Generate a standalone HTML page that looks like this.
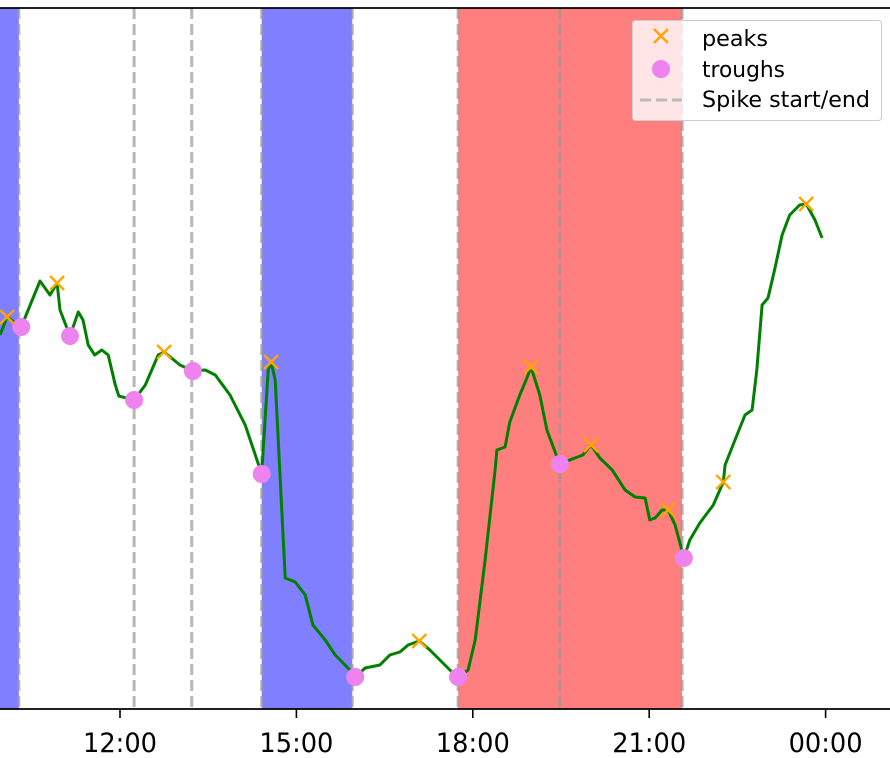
<!DOCTYPE html>
<html><head><meta charset="utf-8"><style>
html,body{margin:0;padding:0;background:#fff;}
svg{display:block;font-family:"DejaVu Sans","Liberation Sans",sans-serif;}
</style></head><body>
<svg id="chart" width="890" height="758" viewBox="0 0 890 758" xmlns="http://www.w3.org/2000/svg">
<g id="spans"></g>
<g id="vlines"></g>
<path id="series" fill="none" stroke="#008000" stroke-width="3" stroke-linejoin="round"/>
<g id="troughs"></g>
<g id="peaks"></g>
<line x1="0" y1="8" x2="890" y2="8" stroke="#000" stroke-width="1.8"/>
<line x1="0" y1="709" x2="890" y2="709" stroke="#000" stroke-width="1.8"/>
<g id="xticks"></g>
<g>
<rect x="632.5" y="20.5" width="249" height="100" rx="3" fill="#fff" fill-opacity="0.8" stroke="#ccc"/>
<g>
<path d="M654,29 L668,43 M668,29 L654,43" stroke="orange" stroke-width="2.4"/>
<text x="702" y="46" font-size="22" textLength="66" lengthAdjust="spacingAndGlyphs" fill="#000">peaks</text></g>
<g>
<circle cx="661" cy="69" r="9" fill="violet"/>
<text x="702" y="77" font-size="22" textLength="83" lengthAdjust="spacingAndGlyphs" fill="#000">troughs</text></g>
<g>
<line x1="640" y1="100" x2="682" y2="100" stroke="#bbb" stroke-width="3" stroke-dasharray="11,5"/>
<text x="702" y="107" font-size="22" textLength="168" lengthAdjust="spacingAndGlyphs" fill="#000">Spike start/end</text></g>
</g>
</svg>
<script>
const times=[9.96,10.08,10.32,10.64,10.81,10.93,10.98,11.15,11.29,11.37,11.46,11.57,11.69,11.80,11.92,11.98,12.24,12.43,12.65,12.75,13.02,13.24,13.45,13.62,13.87,14.13,14.41,14.52,14.57,14.64,14.81,14.98,15.15,15.28,15.49,15.66,15.91,16.00,16.17,16.42,16.59,16.76,16.90,17.09,17.27,17.61,17.75,17.92,18.04,18.21,18.38,18.41,18.55,18.63,18.80,18.92,18.99,19.14,19.26,19.45,19.48,19.65,19.87,20.01,20.16,20.37,20.59,20.76,20.93,21.01,21.10,21.22,21.32,21.44,21.59,21.69,21.86,22.09,22.26,22.29,22.46,22.63,22.75,22.83,22.92,23.02,23.14,23.26,23.39,23.56,23.67,23.82,23.94];
const values=[374,392,382,428,414,426,399,373,397,389,364,354,359,354,324,313,309,324,354,357,344,338,339,334,314,284,235,339,347,329,131,127,114,84,69,54,39,32,41,44,54,57,64,68,59,39,32,39,69,149,239,259,262,287,314,331,342,314,279,249,245,249,254,264,251,239,219,212,211,189,191,199,199,184,151,169,186,204,227,244,269,294,299,339,404,411,441,474,494,504,505,489,471];
const peakTimes=[10.08,10.93,12.75,14.57,17.09,18.99,20.01,21.32,22.26,23.67];
const peakValues=[392,426,357,347,68,342,264,199,227,505];
const troughTimes=[10.32,11.15,12.24,13.24,14.41,16.00,17.75,19.48,21.59];
const troughValues=[382,373,309,338,235,32,32,245,151];
const spikeLines=[10.28,12.24,13.22,14.41,15.95,17.75,19.48,21.56];
const spanStarts=[9.5,14.41,17.75];
const spanEnds=[10.28,15.95,21.56];
const spanKinds=["low","low","high"];
const tickHours=[12,15,18,21,24];
const tickLabels=["12:00","15:00","18:00","21:00","00:00"];

const NS="http://www.w3.org/2000/svg";
function xs(h){return 120+(h-12)*58.8;}
function ys(v){return 709-v;}
function mk(tag,attrs,parent){const e=document.createElementNS(NS,tag);for(const k in attrs)e.setAttribute(k,attrs[k]);parent.appendChild(e);return e;}

const sp=document.getElementById('spans');
spanStarts.forEach((s,i)=>{
  const x1=Math.max(0,xs(s)),x2=xs(spanEnds[i]);
  const r=mk('rect',{x:x1,y:8,width:x2-x1,height:701,fill:spanKinds[i]==="low"?"#7f7fff":"#ff7f7f"},sp);
  
  
});
const vl=document.getElementById('vlines');
spikeLines.forEach(h=>{
  const l=mk('line',{x1:xs(h),y1:8,x2:xs(h),y2:709,stroke:"#999",'stroke-opacity':0.7,'stroke-width':3,'stroke-dasharray':"11,5"},vl);
  
  
});
document.getElementById('series').setAttribute('d',times.map((t,i)=>(i?'L':'M')+xs(t).toFixed(1)+','+ys(values[i]).toFixed(1)).join(' '));
const tg=document.getElementById('troughs');
troughTimes.forEach((t,i)=>{
  const c=mk('circle',{cx:xs(t),cy:ys(troughValues[i]),r:9,fill:"violet"},tg);
  
  
});
const pg=document.getElementById('peaks');
peakTimes.forEach((t,i)=>{
  const x=xs(t),y=ys(peakValues[i]);
  const p=mk('path',{d:`M${x-7},${y-7} L${x+7},${y+7} M${x+7},${y-7} L${x-7},${y+7}`,stroke:"orange",'stroke-width':2.4},pg);
  
  
});
const tk=document.getElementById('xticks');
tickHours.forEach((h,i)=>{
  const x=xs(h);
  const l=mk('line',{x1:x,y1:709,x2:x,y2:718,stroke:"#000",'stroke-width':1.6},tk);
  
  
  const t=mk('text',{x:x-37,y:752,'font-size':27,textLength:74,lengthAdjust:'spacingAndGlyphs',fill:'#000'},tk);
  t.textContent=tickLabels[i];
  
  
});
</script>
</body></html>
